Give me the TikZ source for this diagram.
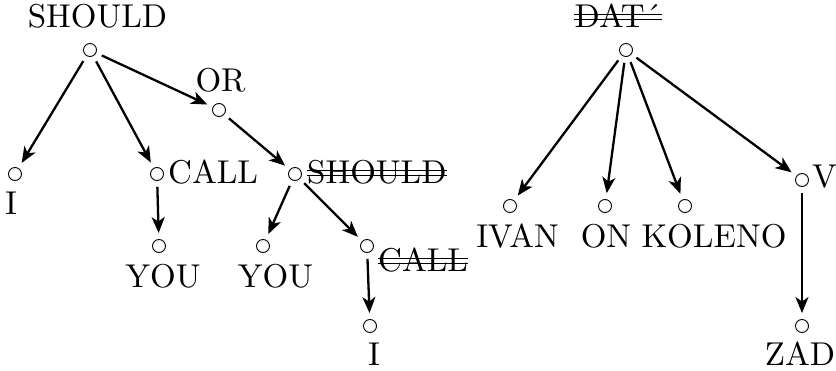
\documentclass[tikz,border=0pt]{standalone}
\usepackage{fontspec}
\usepackage{tikz}
\usetikzlibrary{arrows.meta}

\newfontfamily\wordfont{lmroman10-regular}[Extension=.otf]

\tikzset{
  dot/.style={circle, draw, inner sep=0pt, minimum size=13pt, line width=0.9pt},
  word/.style={inner sep=0pt, anchor=base, font=\fontsize{33}{40}\wordfont},
  arr/.style={-{Stealth[length=16pt,width=13pt,inset=4.5pt]}, line width=2.3pt, shorten >=6pt, shorten <=6pt},
  strike/.style={line width=1.1pt}
}

\begin{document}
\begin{tikzpicture}[x=1pt, y=-1pt]
        \useasboundingbox (0,0) rectangle (836,371);

        % Left tree: dots
        \node[dot] (should) at (90, 50) {};
        \node[dot] (or) at (219, 110) {};
        \node[dot] (i1) at (15, 174) {};
        \node[dot] (call) at (157, 174) {};
        \node[dot] (should2) at (295, 174) {};
        \node[dot] (you1) at (159, 246) {};
        \node[dot] (you2) at (263, 246) {};
        \node[dot] (call2) at (367, 246) {};
        \node[dot] (i2) at (370, 326) {};

        % Left tree: words
        \node[word] (wshould) at (97.5, 28) {SHOULD};
        \node[word] (wor) at (220.5, 92) {OR};
        \node[word] (wi1) at (11, 215) {I};
        \node[word, anchor=base west] (wcall) at (168, 184) {CALL};
        \node[word, anchor=base west] (wshould2) at (307, 184) {SHOULD};
        \node[word] (wyou1) at (163, 288) {YOU};
        \node[word] (wyou2) at (275.5, 288) {YOU};
        \node[word, anchor=base west] (wcall2) at (378, 272) {CALL};
        \node[word] (wi2) at (374, 366) {I};

        % Left tree: arrows
        \draw[arr] (should) -- (i1);
        \draw[arr] (should) -- (call);
        \draw[arr] (should) -- (or);
        \draw[arr] (or) -- (should2);
        \draw[arr] (call) -- (you1);
        \draw[arr] (should2) -- (you2);
        \draw[arr] (should2) -- (call2);
        \draw[arr] (call2) -- (i2);

        % Right tree: dots
        \node[dot] (dat) at (626, 50) {};
        \node[dot] (ivan) at (510, 206) {};
        \node[dot] (on) at (605, 206) {};
        \node[dot] (koleno) at (685, 206) {};
        \node[dot] (v) at (802, 180) {};
        \node[dot] (zad) at (802, 326) {};

        % Right tree: words
        \node[word] (wdat) at (618, 28) {DAT´};
        \node[word] (wivan) at (517.5, 248) {IVAN};
        \node[word] (won) at (606, 248) {ON};
        \node[word] (wkoleno) at (714, 248) {KOLENO};
        \node[word, anchor=base west] (wv) at (812, 188) {V};
        \node[word] (wzad) at (800, 366) {ZAD};

        % Right tree: arrows
        \draw[arr] (dat) -- (ivan);
        \draw[arr] (dat) -- (on);
        \draw[arr] (dat) -- (koleno);
        \draw[arr] (dat) -- (v);
        \draw[arr] (v) -- (zad);

        % Struck-out words
        \foreach \w in {wshould2, wcall2, wdat} {
          \draw[strike] ([yshift=13.5pt]\w.base west) -- ([yshift=13.5pt]\w.base east);
          \draw[strike] ([yshift=8.5pt]\w.base west) -- ([yshift=8.5pt]\w.base east);
        }
\end{tikzpicture}
\end{document}
